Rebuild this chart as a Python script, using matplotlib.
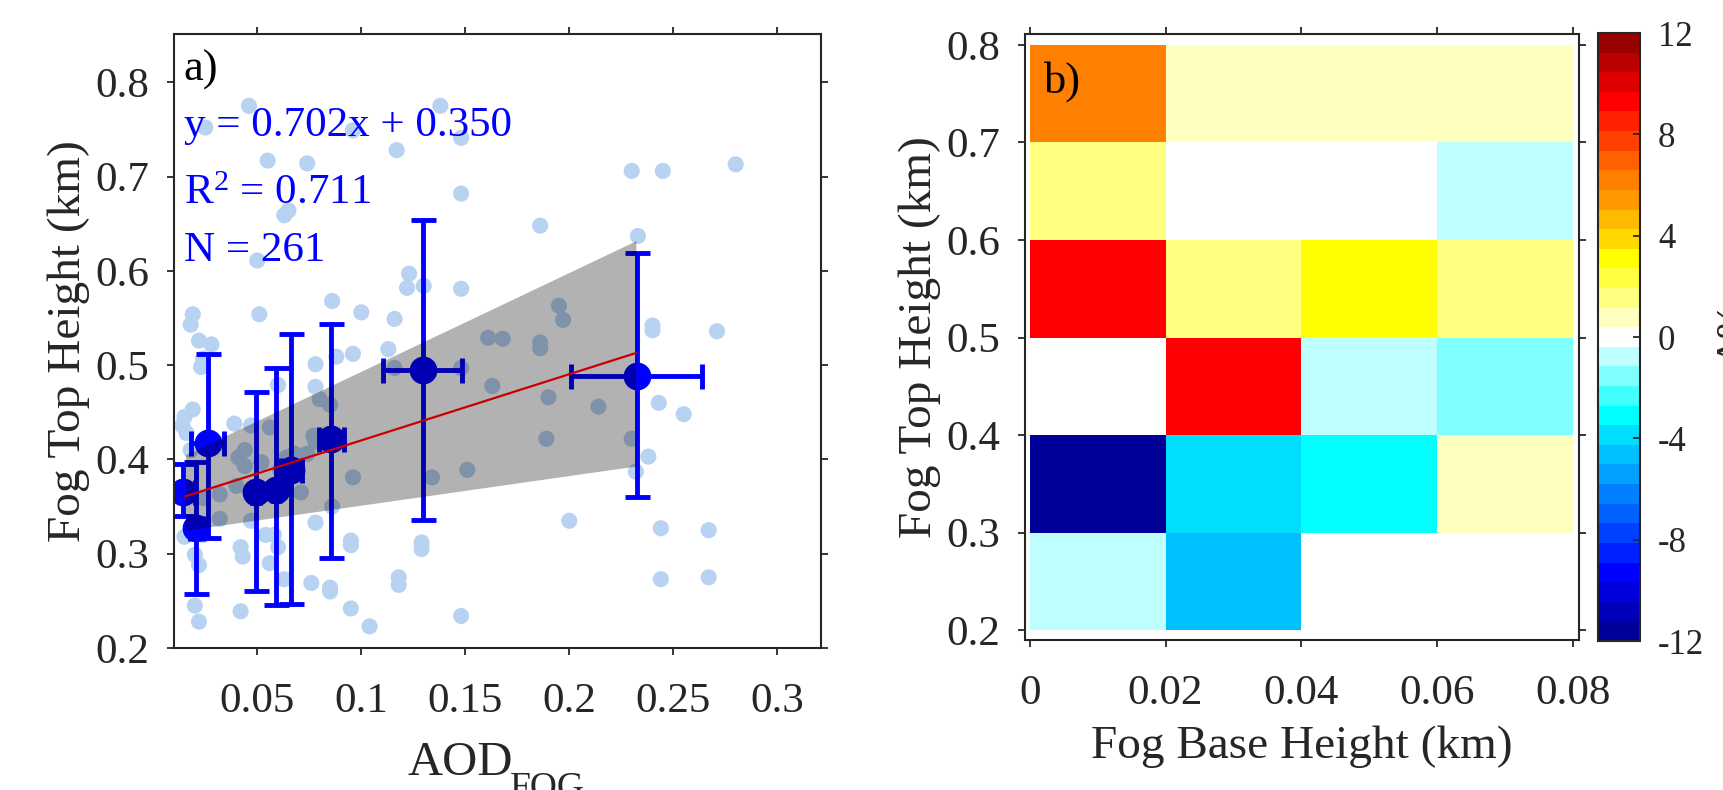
import matplotlib
matplotlib.use('Agg')
import matplotlib.pyplot as plt
from matplotlib.colors import ListedColormap
import numpy as np

plt.rcParams['font.family'] = ['Liberation Serif', 'DejaVu Serif']
plt.rcParams['mathtext.fontset'] = 'custom'
plt.rcParams['mathtext.rm'] = 'Liberation Serif'
plt.rcParams['mathtext.it'] = 'Liberation Serif'

# ---- panel a) data (read off the picture) ----
aod = [0.046, 0.025, 0.138, 0.096, 0.148, 0.117, 0.055, 0.074, 0.230, 0.245,
       0.280, 0.148, 0.063, 0.065, 0.186, 0.233, 0.050, 0.123, 0.122, 0.130,
       0.148, 0.086, 0.019, 0.018, 0.051, 0.100, 0.116, 0.022, 0.028, 0.195,
       0.197, 0.240, 0.240, 0.271, 0.161, 0.168, 0.186, 0.186, 0.023, 0.024,
       0.078, 0.096, 0.088, 0.113, 0.116, 0.148, 0.163, 0.019, 0.015, 0.014,
       0.016, 0.060, 0.078, 0.243, 0.255, 0.190, 0.214, 0.039, 0.047, 0.056,
       0.080, 0.085, 0.077, 0.018, 0.031, 0.044, 0.041, 0.044, 0.052, 0.061,
       0.064, 0.068, 0.069, 0.074, 0.078, 0.189, 0.230, 0.238, 0.232, 0.096,
       0.134, 0.151, 0.032, 0.024, 0.040, 0.048, 0.054, 0.062, 0.071, 0.032,
       0.047, 0.086, 0.200, 0.078, 0.015, 0.024, 0.020, 0.022, 0.042, 0.043,
       0.054, 0.060, 0.058, 0.056, 0.095, 0.095, 0.129, 0.129, 0.244, 0.267,
       0.076, 0.085, 0.085, 0.063, 0.118, 0.118, 0.244, 0.267, 0.020, 0.022,
       0.042, 0.095, 0.104, 0.148]
fth = [0.775, 0.752, 0.775, 0.749, 0.741, 0.728, 0.717, 0.714, 0.706, 0.706,
       0.713, 0.682, 0.659, 0.664, 0.648, 0.637, 0.611, 0.597, 0.582, 0.584,
       0.581, 0.568, 0.554, 0.543, 0.554, 0.556, 0.549, 0.526, 0.522, 0.563,
       0.548, 0.542, 0.537, 0.536, 0.529, 0.528, 0.524, 0.518, 0.498, 0.507,
       0.501, 0.512, 0.509, 0.517, 0.497, 0.497, 0.478, 0.453, 0.445, 0.436,
       0.428, 0.479, 0.477, 0.460, 0.448, 0.466, 0.456, 0.438, 0.436, 0.434,
       0.464, 0.458, 0.425, 0.410, 0.417, 0.410, 0.402, 0.393, 0.397, 0.389,
       0.402, 0.406, 0.393, 0.406, 0.419, 0.422, 0.422, 0.403, 0.387, 0.381,
       0.381, 0.389, 0.363, 0.359, 0.372, 0.359, 0.367, 0.372, 0.365, 0.337,
       0.335, 0.350, 0.335, 0.333, 0.318, 0.320, 0.299, 0.288, 0.307, 0.297,
       0.320, 0.307, 0.320, 0.290, 0.314, 0.309, 0.312, 0.305, 0.327, 0.325,
       0.269, 0.264, 0.260, 0.273, 0.275, 0.267, 0.273, 0.275, 0.245, 0.228,
       0.239, 0.242, 0.223, 0.234]

# binned means with spread
bin_x = [0.0142, 0.0207, 0.0262, 0.0494, 0.0590, 0.0663, 0.0855, 0.1296, 0.2325]
bin_y = [0.366, 0.327, 0.417, 0.366, 0.368, 0.389, 0.422, 0.495, 0.489]
bin_lo = [0.340, 0.257, 0.317, 0.261, 0.246, 0.247, 0.296, 0.336, 0.360]
bin_hi = [0.395, 0.397, 0.512, 0.472, 0.497, 0.533, 0.544, 0.654, 0.619]
bin_xerr = [0.006, 0.003, 0.008, 0.002, 0.002, 0.005, 0.006, 0.019, 0.0315]

# fit and its uncertainty band
slope, intercept = 0.702, 0.350
band_x = [0.0155, 0.232]
band_lo = [0.325, 0.393]
band_hi = [0.405, 0.632]

# ---- panel b) data ----
base_edges = [0, 0.02, 0.04, 0.06, 0.08]
top_edges = [0.2, 0.3, 0.4, 0.5, 0.6, 0.7, 0.8]
row_02 = [-0.8, -4.6, np.nan, np.nan]
row_03 = [-11.6, -3.9, -3.1, 0.8]
row_04 = [np.nan, 9.3, -0.8, -1.5]
row_05 = [9.3, 1.5, 3.1, 1.5]
row_06 = [1.5, np.nan, np.nan, -0.8]
row_07 = [6.2, 0.8, 0.8, 0.8]

cmap_colors = [(0, 0, 0.6), (0, 0, 0.73), (0, 0, 0.87), (0, 0, 1), (0, 0.13, 1),
               (0, 0.25, 1), (0, 0.38, 1), (0, 0.5, 1), (0, 0.63, 1), (0, 0.75, 1),
               (0, 0.87, 1), (0, 1, 1), (0.25, 1, 1), (0.5, 1, 1), (0.75, 1, 1),
               (1, 1, 1),
               (1, 1, 0.75), (1, 1, 0.5), (1, 1, 0.25), (1, 1, 0), (1, 0.85, 0),
               (1, 0.73, 0), (1, 0.6, 0), (1, 0.5, 0), (1, 0.38, 0), (1, 0.25, 0),
               (1, 0.13, 0), (1, 0, 0), (0.87, 0, 0), (0.73, 0, 0), (0.6, 0, 0)]

dark = (0.15, 0.15, 0.15)
W, H = 1723, 790
fig = plt.figure(figsize=(W / 100, H / 100), dpi=100)
ax1 = fig.add_axes([0.101, 0.1797, 0.3755, 0.777])
ax2 = fig.add_axes([0.5949, 0.1899, 0.3215, 0.767])
cax = fig.add_axes([0.9274, 0.1886, 0.0244, 0.7696])

# panel a
ax1.scatter(aod, fth, s=135, color='#B8D2F2', edgecolors='none', zorder=1)
ax1.errorbar(bin_x, bin_y, yerr=[np.array(bin_y) - bin_lo, np.array(bin_hi) - bin_y],
             xerr=bin_xerr, fmt='o', color='b', ms=19, lw=3.5, capsize=9,
             capthick=3.5, zorder=2)
ax1.fill_between(band_x, band_lo, band_hi, color='k', alpha=0.3, lw=0, zorder=3)
fx = np.array(band_x)
ax1.plot(fx, slope * fx + intercept, color='#C80000', lw=1.6, zorder=4)

ax1.set_xlim(0.01, 0.321)
ax1.set_ylim(0.2, 0.851)
ax1.set_xticks([0.05, 0.1, 0.15, 0.2, 0.25, 0.3])
ax1.set_xticklabels(['0.05', '0.1', '0.15', '0.2', '0.25', '0.3'])
ax1.set_yticks([0.2, 0.3, 0.4, 0.5, 0.6, 0.7, 0.8])
ax1.set_yticklabels(['0.2', '0.3', '0.4', '0.5', '0.6', '0.7', '0.8'])
ax1.set_ylabel('Fog Top Height (km)', fontsize=34, color=dark)
# x label with a MATLAB-like big, low subscript (cut by the figure edge)
fig.text(408 / W, 1 - 775 / H, 'AOD', fontsize=35, color=dark, va='baseline', ha='left')
fig.text(510 / W, 1 - 798 / H, 'FOG', fontsize=27, color=dark, va='baseline', ha='left')
ax1.text(0.015, 0.975, 'a)', transform=ax1.transAxes, fontsize=32, va='top')
ax1.text(0.016, 0.834, 'y = 0.702x + 0.350', transform=ax1.transAxes,
         fontsize=31, color='b', va='baseline')
ax1.text(0.016, 0.724, 'R$^{2}$ = 0.711', transform=ax1.transAxes,
         fontsize=31, color='b', va='baseline')
ax1.text(0.016, 0.631, 'N = 261', transform=ax1.transAxes,
         fontsize=31, color='b', va='baseline')

# panel b
grid = np.array([row_02, row_03, row_04, row_05, row_06, row_07])
cmap = ListedColormap(cmap_colors)
mesh = ax2.pcolormesh(base_edges, top_edges, grid, cmap=cmap, vmin=-12, vmax=12)
ax2.set_xlim(-0.0007, 0.0809)
ax2.set_ylim(0.19, 0.811)
ax2.set_xticks([0, 0.02, 0.04, 0.06, 0.08])
ax2.set_xticklabels(['0', '0.02', '0.04', '0.06', '0.08'])
ax2.set_yticks([0.2, 0.3, 0.4, 0.5, 0.6, 0.7, 0.8])
ax2.set_yticklabels(['0.2', '0.3', '0.4', '0.5', '0.6', '0.7', '0.8'])
ax2.set_xlabel('Fog Base Height (km)', fontsize=34, color=dark, labelpad=9)
ax2.set_ylabel('Fog Top Height (km)', fontsize=34, color=dark)
ax2.text(0.034, 0.955, 'b)', transform=ax2.transAxes, fontsize=32, va='top')

for ax in [ax1, ax2]:
    ax.tick_params(direction='out', length=5, width=1.3, labelsize=31,
                   colors=dark, top=True, right=True)
    ax.tick_params(axis='x', pad=20)
    ax.tick_params(axis='y', pad=13)
    for s in ax.spines.values():
        s.set_color(dark)
        s.set_linewidth(1.5)

cb = fig.colorbar(mesh, cax=cax)
cb.set_ticks([-12, -8, -4, 0, 4, 8, 12])
cb.set_ticklabels(['-12', '-8', '-4', '0', '4', '8', '12'])
cax.tick_params(direction='in', length=5, width=1.3, labelsize=25, colors=dark, pad=13)
cb.outline.set_edgecolor(dark)
cb.outline.set_linewidth(1.5)
fig.text(0.9955, 0.58, '\u0394%', rotation=90, fontsize=30, color=dark,
         ha='left', va='center')

fig.savefig('out.png', dpi=100)
